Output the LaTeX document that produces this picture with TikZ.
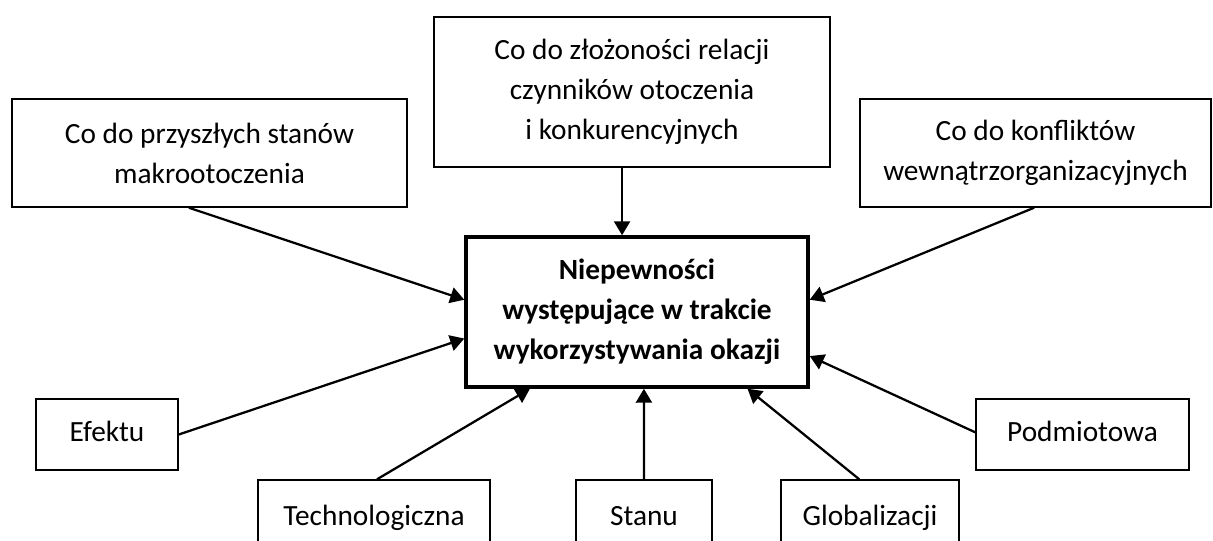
\documentclass[tikz,border=0pt]{standalone}
\usepackage{fontspec}
\setmainfont{Carlito}
\usetikzlibrary{calc, arrows.meta}

\begin{document}
\begin{tikzpicture}[x=0.75pt, y=-0.75pt]
  \tikzstyle{box} = [draw, line width=1.1pt, inner sep=0pt, align=center,
    font=\fontsize{22}{30}\selectfont]
  \tikzstyle{small} = [box, text height=16pt, text depth=5pt]
  \tikzstyle{mainbox} = [box, line width=2.6pt, font=\fontsize{22}{30}\selectfont\bfseries]
  \tikzstyle{link} = [line width=1.7pt, -{Triangle[length=10.5pt, width=12pt]}]
  \useasboundingbox (0,0) rectangle (1213,540);
  \clip (0,0) rectangle (1213,540);
  % boxes
  \node[box, minimum width=296.25pt, minimum height=81pt] (tl) at (209.5,153)
    {Co do przyszłych stanów\\makrootoczenia};
  \node[box, minimum width=297pt, minimum height=112.5pt] (tm) at (632,92)
    {Co do złożoności relacji\\czynników otoczenia\\i konkurencyjnych};
  \node[box, minimum width=263.25pt, minimum height=81pt] (tr) at (1035.5,153)
    {Co do konfliktów\\wewnątrzorganizacyjnych};
  \node[mainbox, minimum width=256.5pt, minimum height=112.5pt] (c) at (637,312)
    {Niepewności\\występujące w trakcie\\wykorzystywania okazji};
  \node[small, minimum width=106.5pt, minimum height=53.25pt] (ef) at (107,434.5) {Efektu};
  \node[small, minimum width=159.75pt, minimum height=53.25pt] (po) at (1082.5,434.5) {Podmiotowa};
  \node[small, minimum width=174pt, minimum height=57pt] (te) at (374,518) {Technologiczna};
  \node[small, minimum width=102pt, minimum height=57pt] (st) at (644,518) {Stanu};
  \node[small, minimum width=133.5pt, minimum height=57pt] (gl) at (870,518) {Globalizacji};
  % arrows
  \draw[link] ($(tl.south west)!.448!(tl.south east)$) -- ($(c.north west)!.42!(c.south west)$);
  \coordinate (tmfoot) at ($(tm.south west)!.475!(tm.south east)$);
  \draw[link] (tmfoot) -- (tmfoot |- c.north);
  \draw[link] ($(tr.south west)!.496!(tr.south east)$) -- ($(c.north east)!.42!(c.south east)$);
  \draw[link] (ef.east) -- ($(c.north west)!.673!(c.south west)$);
  \draw[link] ($(te.north west)!.513!(te.north east)$) -- ($(c.south west)!.19!(c.south east)$);
  \draw[link] (st.north) -- ($(c.south west)!.52!(c.south east)$);
  \draw[link] ($(gl.north west)!.44!(gl.north east)$) -- ($(c.south west)!.82!(c.south east)$);
  \draw[link] ($(po.north west)!.47!(po.south west)$) -- ($(c.north east)!.787!(c.south east)$);
\end{tikzpicture}
\end{document}
